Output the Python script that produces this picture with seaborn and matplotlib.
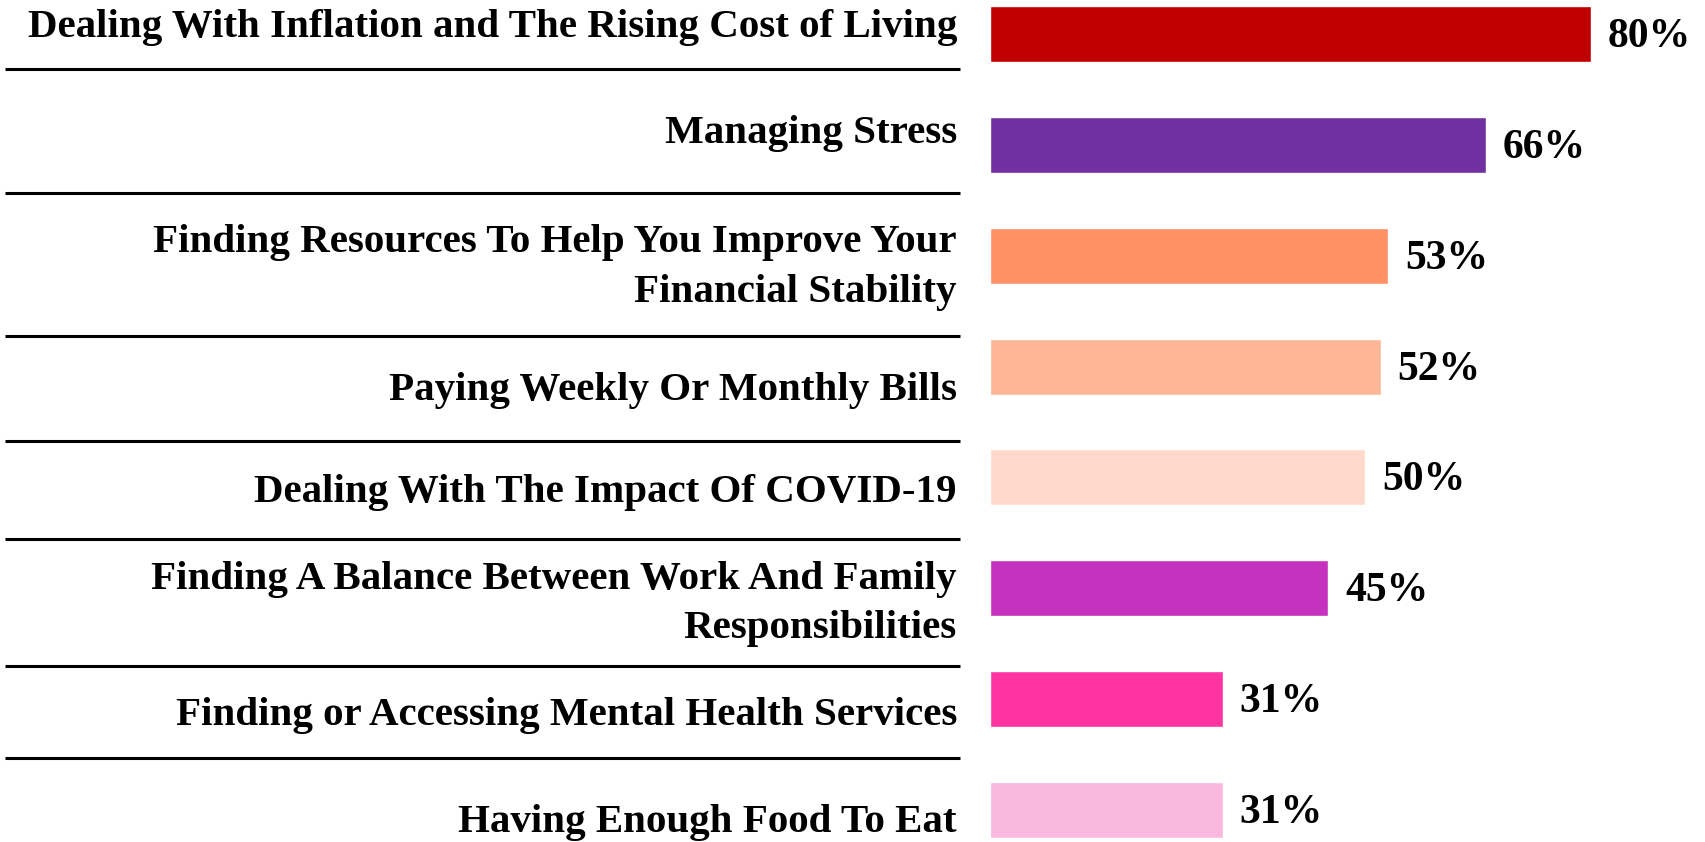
import matplotlib
matplotlib.use("Agg")
import matplotlib.pyplot as plt
import seaborn as sns

categories = [
    "Dealing With Inflation and The Rising Cost of Living",
    "Managing Stress",
    "Finding Resources To Help You Improve Your\nFinancial Stability",
    "Paying Weekly Or Monthly Bills",
    "Dealing With The Impact Of COVID-19",
    "Finding A Balance Between Work And Family\nResponsibilities",
    "Finding or Accessing Mental Health Services",
    "Having Enough Food To Eat",
]
values = [80, 66, 53, 52, 50, 45, 31, 31]
bar_colors = ["#C00000", "#7030A0", "#FF9166", "#FFB597",
              "#FFDACC", "#C532BE", "#FF33A1", "#FBB8DF"]

# layout (figure pixels)
W, H = 1706, 842
BAR_X0 = 990
PX_PER_PCT = 7.51
ROW0, ROW_STEP = 34, 110.86
# baseline of the last text line, relative to the bar centre
label_baseline_shift = [3, -2, 46, 33, 25, 50, 26, 22]
separator_y = [69, 193, 336, 441, 539, 666, 758]

sns.set_style("white")
plt.rcParams["font.family"] = ["Liberation Serif", "DejaVu Serif"]

fig = plt.figure(figsize=(W / 100, H / 100), dpi=100)
ax = fig.add_axes([BAR_X0 / W, 0, 1 - BAR_X0 / W, 1])

sns.barplot(x=values, y=categories, hue=categories, palette=bar_colors,
            legend=False, width=0.505, saturation=1, orient="h", ax=ax)

ax.set_xlim(0, (W - BAR_X0) / PX_PER_PCT)
ax.set_ylim((H - ROW0) / ROW_STEP, -ROW0 / ROW_STEP)
ax.set_axis_off()

for i, v in enumerate(values):
    ax.annotate(f"{v}%", xy=(v, i), xytext=(17 * 0.72, -13 * 0.72),
                textcoords="offset points", ha="left", va="baseline",
                fontsize=30, fontweight="bold", color="black")

# label panel on the left, in pixel coordinates
lab = fig.add_axes([0, 0, BAR_X0 / W, 1])
lab.set_xlim(0, BAR_X0)
lab.set_ylim(H, 0)
lab.set_axis_off()

for i, name in enumerate(categories):
    y = ROW0 + ROW_STEP * i + label_baseline_shift[i]
    lab.text(957, y, name, ha="right", va="baseline", multialignment="right",
             fontsize=29.5, fontweight="bold", color="black", linespacing=1.45)

for y in separator_y:
    lab.plot([5, 960], [y, y], color="black", lw=2.2, solid_capstyle="butt")

fig.savefig("out.png", dpi=100)
